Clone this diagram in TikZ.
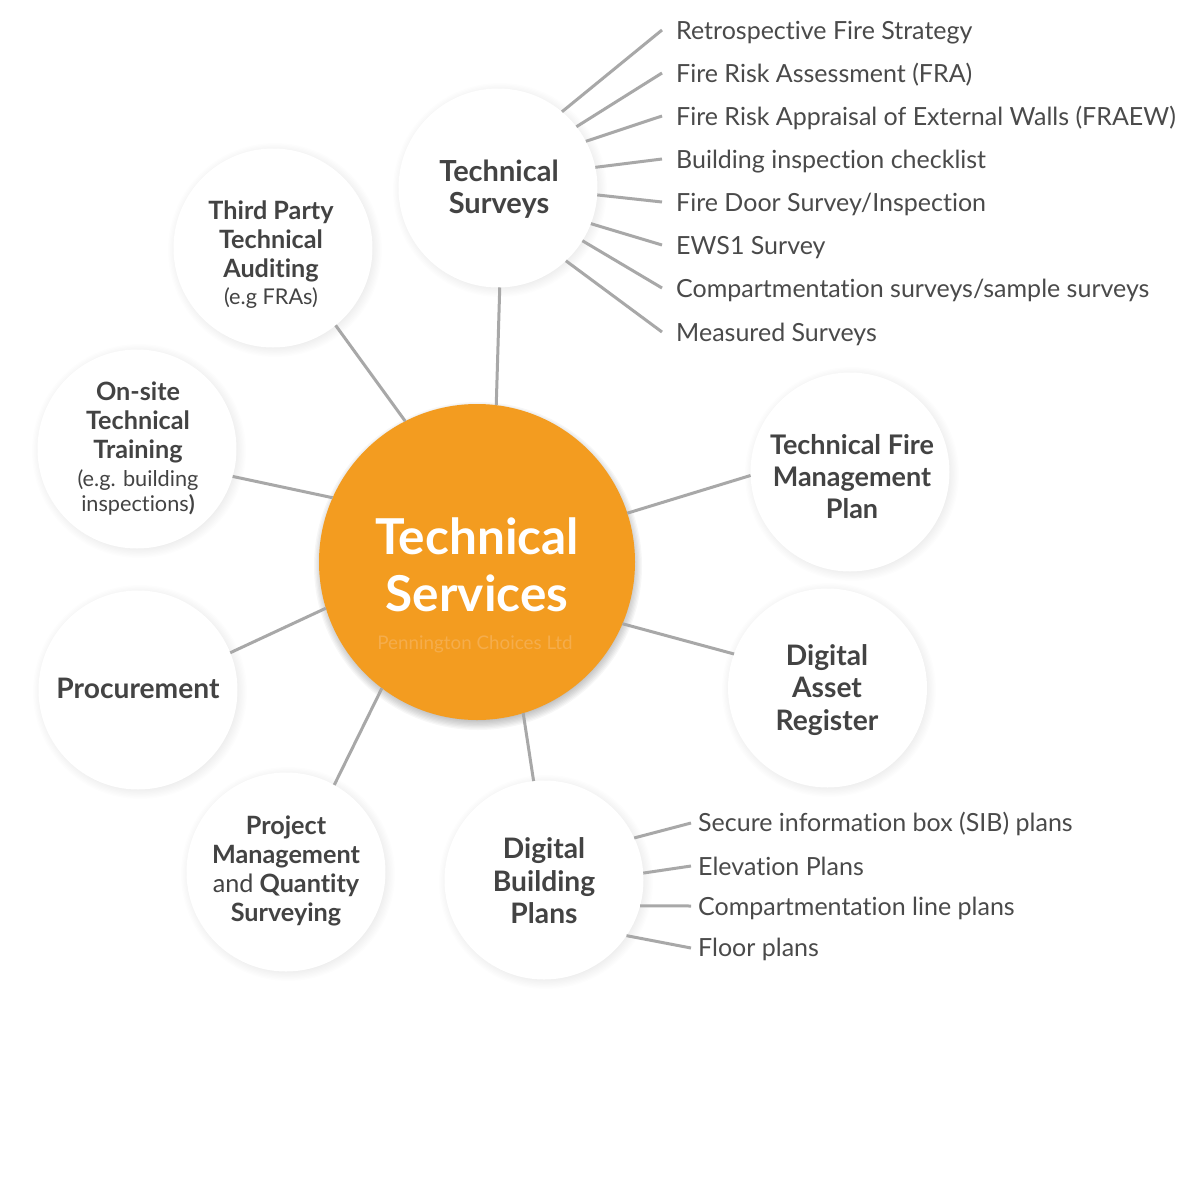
\documentclass[tikz,border=0pt]{standalone}
\usepackage{fontspec}
\setmainfont{Lato}[Ligatures=NoCommon]
\definecolor{orangec}{HTML}{F39C20}
\definecolor{inkc}{HTML}{434343}
\definecolor{leafc}{HTML}{4A4A4A}
\definecolor{linec}{HTML}{A8A8A8}
\definecolor{markc}{HTML}{F5AD4C}
\newcommand{\softshade}[4]{%
  \foreach \k in {0,...,7}{
    \fill[black,fill opacity=#4] (#1,#2) circle[radius=#3+8-\k*1.3];
  }}
\newcommand{\subtxt}{\fontsize{21.7}{25}\selectfont\mdseries}
\tikzset{
  x=1pt,y=-1pt,
  sat/.style={circle,fill=white,minimum size=199pt,inner sep=0pt,outer sep=0pt},
  hub/.style={circle,fill=orangec,minimum size=316pt,inner sep=0pt,outer sep=0pt},
  head/.style={align=center,text=inkc,font=\fontsize{28.2}{32.4}\selectfont\bfseries,inner sep=0pt},
  headb/.style={align=center,text=inkc,font=\fontsize{25.2}{29}\selectfont\bfseries,inner sep=0pt},
  leaf/.style={anchor=west,text=leafc,font=\fontsize{25}{30}\selectfont,inner sep=0pt},
  conn/.style={draw=linec,line width=3pt},
}
\begin{document}
\begin{tikzpicture}
\useasboundingbox[fill=white] (0,0) rectangle (1200,1200);
% soft shadows
\softshade{500}{190}{99}{.009}
\softshade{275}{250}{99}{.009}
\softshade{139}{451}{99}{.009}
\softshade{140}{692}{99}{.009}
\softshade{288}{874}{99}{.009}
\softshade{546}{882}{99}{.009}
\softshade{829}{690}{99}{.009}
\softshade{852}{474}{99}{.009}
\softshade{478}{566}{156}{.03}
% circles
\node[hub] (c) at (477,562) {};
\node[sat] (ts) at (498,188) {};
\node[sat] (tp) at (273,248) {};
\node[sat] (os) at (137,449) {};
\node[sat] (pr) at (138,690) {};
\node[sat] (pm) at (286,872) {};
\node[sat] (db) at (544,880) {};
\node[sat] (da) at (827.5,688) {};
\node[sat] (tf) at (850,472) {};
% hub labels
\node[align=center,text=white,inner sep=0pt,font=\fontsize{49.5}{57}\selectfont\bfseries] (ctext) at (477,565) {Technical\\Services};
\node[text=markc,inner sep=0pt,font=\fontsize{18.8}{24}\selectfont] (cmark) at (475,644) {Pennington Choices Ltd};
% satellite labels
\node[head,font=\fontsize{29}{32.5}\selectfont\bfseries] (tst) at (499,189) {Technical\\Surveys};
\node[headb] (tpt) at (271,255) {Third Party\\Technical\\Auditing\\[-2pt]{\subtxt (e.g FRAs)}};
\node[headb] (ost) at (138,448.5) {On-site\\Technical\\Training\\[-1pt]{\subtxt (e.g. building}\\[-4pt]{\subtxt inspections}{\fontsize{21.7}{25}\selectfont)}};
\node[head] (prt) at (138,688) {Procurement};
\node[headb] (pmt) at (286,871) {Project\\Management\\{\mdseries and} Quantity\\Surveying};
\node[head] (dbt) at (544,881) {Digital\\Building\\Plans};
\node[head] (dat) at (827,690) {Digital\\Asset\\Register};
\node[head,font=\fontsize{27}{31.6}\selectfont\bfseries] (tft) at (852,476.5) {Technical Fire\\Management\\Plan};
% leaf labels
\node[leaf] (l1) at (676,32.5) {Retrospective Fire Strategy};
\node[leaf] (l2) at (676,74.5) {Fire Risk Assessment (FRA)};
\node[leaf] (l3) at (676,117.5) {Fire Risk Appraisal of External Walls (FRAEW)};
\node[leaf] (l4) at (676,161.5) {Building inspection checklist};
\node[leaf] (l5) at (676,204.5) {Fire Door Survey/Inspection};
\node[leaf] (l6) at (676,247.5) {EWS1 Survey};
\node[leaf] (l7) at (676,290.5) {Compartmentation surveys/sample surveys};
\node[leaf] (l8) at (676,334.5) {Measured Surveys};
\node[leaf] (p1) at (698,823.5) {Secure information box (SIB) plans};
\node[leaf] (p2) at (698,866) {Elevation Plans};
\node[leaf] (p3) at (698,908.5) {Compartmentation line plans};
\node[leaf] (p4) at (698,949.5) {Floor plans};
% free ends
\coordinate (e1) at (662,30);
\coordinate (e2) at (662,73);
\coordinate (e3) at (662,116);
\coordinate (e4) at (662,159);
\coordinate (e5) at (662,202);
\coordinate (e6) at (662,245);
\coordinate (e7) at (662,288);
\coordinate (e8) at (662,332);
\coordinate (f1) at (691,823);
\coordinate (f2) at (691,866);
\coordinate (f3) at (691,906);
\coordinate (f4) at (691,948);
% hub connectors
\draw[conn] (ts.-89.5) -- (c.83.5);
\draw[conn] (tp.-51) -- (c.117.3);
\draw[conn] (os.-16.8) -- (c.156.7);
\draw[conn] (pr.22.1) -- (c.197.5);
\draw[conn] (pm.61) -- (c.233.8);
\draw[conn] (db.96.3) -- (c.-73.4);
\draw[conn] (da.160) -- (c.-23);
\draw[conn] (tf.182.8) -- (c.18.1);
% leaf connectors
\draw[conn] (ts.50.6) -- (e1);
\draw[conn] (ts.38.9) -- (e2);
\draw[conn] (ts.28) -- (e3);
\draw[conn] (ts.12.5) -- (e4);
\draw[conn] (ts.-4.1) -- (e5);
\draw[conn] (ts.-21.2) -- (e6);
\draw[conn] (ts.-32.3) -- (e7);
\draw[conn] (ts.-47) -- (e8);
\draw[conn] (db.25) -- (f1);
\draw[conn] (db.4) -- (f2);
\draw[conn] (db.-15.7) -- (f3);
\draw[conn] (db.-34.7) -- (f4);
\end{tikzpicture}
\end{document}
